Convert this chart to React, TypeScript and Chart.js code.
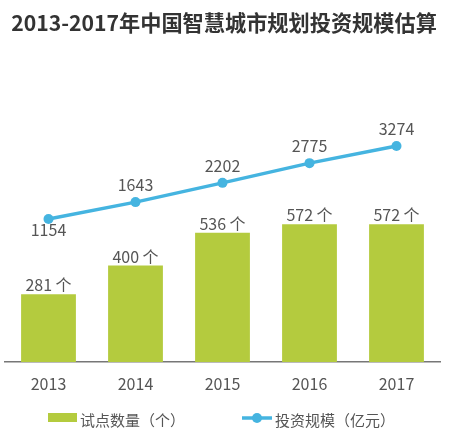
import React, { useEffect, useRef } from "react";
import { Chart, registerables } from "chart.js";

Chart.register(...registerables);

const TITLE = "2013-2017年中国智慧城市规划投资规模估算";
const categories = ["2013", "2014", "2015", "2016", "2017"];
const pilotCounts = [281, 400, 536, 572, 572];
const investment = [1154, 1643, 2202, 2775, 3274];
const barLegend = "试点数量（个）";
const lineLegend = "投资规模（亿元）";
const barSuffix = " 个";

const BAR_COLOR = "#b4cb3e";
const LINE_COLOR = "#45b4e0";
const TEXT_COLOR = "#555555";
const FONT = "'Noto Sans CJK SC', 'Noto Sans', sans-serif";

const decorPlugin = {
  id: "decor",
  afterDatasetsDraw(chart: any) {
    const ctx = chart.ctx;
    ctx.save();
    const barMeta = chart.getDatasetMeta(0);
    ctx.fillStyle = TEXT_COLOR;
    ctx.font = `16px ${FONT}`;
    ctx.textAlign = "center";
    ctx.textBaseline = "bottom";
    barMeta.data.forEach((el: any, i: number) => {
      ctx.fillText(String(pilotCounts[i]) + barSuffix, el.x, el.y - 1);
    });
    const lineMeta = chart.getDatasetMeta(1);
    ctx.textBaseline = "middle";
    lineMeta.data.forEach((el: any, i: number) => {
      const dy = i === 0 ? 11 : -17;
      ctx.fillText(String(investment[i]), el.x, el.y + dy);
    });
    ctx.restore();
  },
  afterDraw(chart: any) {
    const ctx = chart.ctx;
    ctx.save();
    // title, fitted to the reference width
    ctx.fillStyle = "#333333";
    let size = 23;
    ctx.font = `bold ${size}px ${FONT}`;
    const w = ctx.measureText(TITLE).width;
    size = Math.min(size, (size * 426) / w);
    ctx.font = `bold ${size}px ${FONT}`;
    ctx.textAlign = "center";
    ctx.textBaseline = "middle";
    ctx.fillText(TITLE, 224, 23);
    // legend
    const ly = 418;
    ctx.fillStyle = BAR_COLOR;
    ctx.fillRect(48, 413, 29, 9);
    ctx.fillStyle = TEXT_COLOR;
    ctx.font = `15px ${FONT}`;
    ctx.textAlign = "left";
    ctx.textBaseline = "middle";
    ctx.fillText(barLegend, 80, ly + 2);
    ctx.strokeStyle = LINE_COLOR;
    ctx.lineWidth = 3.5;
    ctx.beginPath();
    ctx.moveTo(242, ly);
    ctx.lineTo(272, ly);
    ctx.stroke();
    ctx.fillStyle = LINE_COLOR;
    ctx.beginPath();
    ctx.arc(257, ly, 5, 0, Math.PI * 2);
    ctx.fill();
    ctx.fillStyle = TEXT_COLOR;
    ctx.fillText(lineLegend, 275, ly + 2);
    ctx.restore();
  },
};

export default function App() {
  const ref = useRef<HTMLCanvasElement | null>(null);
  useEffect(() => {
    if (!ref.current) return;
    const chart = new Chart(ref.current, {
      type: "bar",
      data: {
        labels: categories,
        datasets: [
          {
            type: "bar",
            label: barLegend,
            data: pilotCounts,
            backgroundColor: BAR_COLOR,
            barPercentage: 0.63,
            categoryPercentage: 1,
            yAxisID: "y",
            order: 2,
          },
          {
            type: "line",
            label: lineLegend,
            data: investment,
            borderColor: LINE_COLOR,
            backgroundColor: LINE_COLOR,
            borderWidth: 3.5,
            pointRadius: 5,
            pointBackgroundColor: LINE_COLOR,
            pointBorderWidth: 0,
            tension: 0,
            yAxisID: "y2",
            order: 1,
          } as any,
        ],
      },
      options: {
        responsive: false,
        animation: false,
        devicePixelRatio: 1,
        layout: { padding: { top: 60, left: 2, right: 10, bottom: 0 } },
        plugins: {
          legend: { display: false },
          title: { display: false },
          tooltip: { enabled: false },
        },
        scales: {
          x: {
            grid: { color: "rgba(0,0,0,0)", drawTicks: false },
            border: { display: true, color: "#777777", width: 1.5 },
            ticks: {
              color: TEXT_COLOR,
              font: { size: 16, family: FONT },
              padding: 12,
            },
            afterFit(scale: any) {
              scale.height = 75;
            },
          },
          y: {
            display: false,
            min: 0,
            max: 1253,
          },
          y2: {
            display: false,
            min: -3000,
            max: 5770,
          },
        },
      },
      plugins: [decorPlugin],
    });
    return () => chart.destroy();
  }, []);
  return (
    <div style={{ position: "absolute", left: 0, top: 0, width: 450, height: 437, background: "#fff" }}>
      <canvas ref={ref} width={450} height={437} style={{ width: 450, height: 437 }} />
    </div>
  );
}
